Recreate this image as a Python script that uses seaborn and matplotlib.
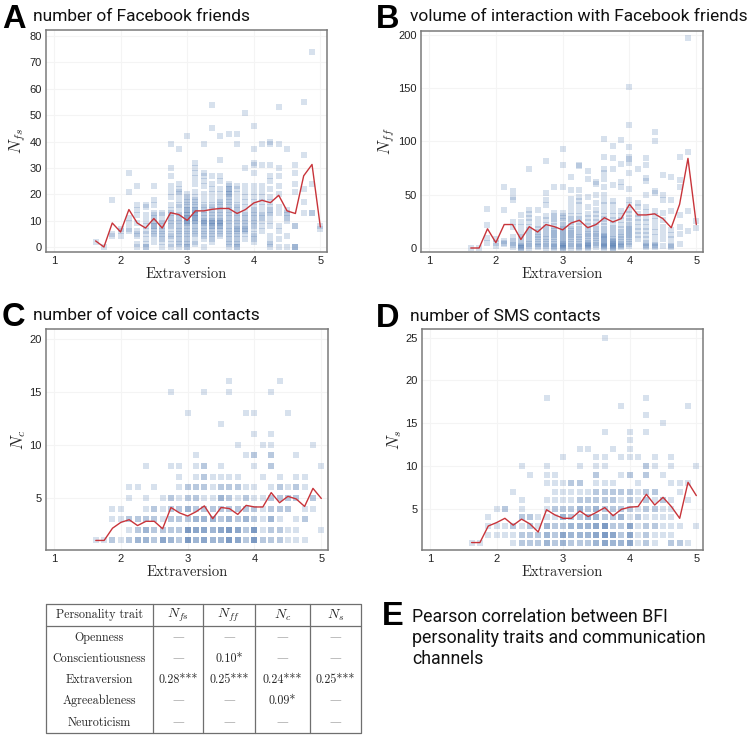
import matplotlib
matplotlib.use("Agg")
import matplotlib.pyplot as plt
import pandas as pd
import seaborn as sns

# ---------------- data ----------------
extraversion = [1.625, 1.75, 1.875, 2.0, 2.125, 2.25, 2.375, 2.5, 2.625, 2.75,
                2.875, 3.0, 3.125, 3.25, 3.375, 3.5, 3.625, 3.75, 3.875, 4.0,
                4.125, 4.25, 4.375, 4.5, 4.625, 4.75, 4.875, 5.0]

nfs_points = [
    [2], [0], [18, 5, 4], [7, 6, 4], [28, 21, 11, 9, 7, 6],
    [23, 16, 14, 12, 9, 6, 5, 4, 1, 0],
    [16, 15, 12, 10, 8, 6, 5, 3, 1, 0, 0],
    [23, 18, 16, 13, 12, 11, 10, 9, 8, 8, 7, 6, 5, 4, 2],
    [13, 12, 10, 9, 8, 7, 6, 5, 4, 3, 2, 0],
    [39, 30, 27, 23, 21, 19, 16, 14, 13, 12, 11, 10, 9, 8, 7, 5, 4, 3, 1, 0],
    [37, 24, 22, 21, 20, 18, 16, 15, 13, 12, 11, 10, 9, 8, 7, 6, 5, 4, 3, 2, 1, 0],
    [42, 20, 19, 18, 17, 16, 15, 14, 14, 13, 12, 12, 11, 11, 10, 10, 9, 9, 8, 7, 6, 5, 4, 3, 2, 1, 0, 0],
    [32, 30, 28, 26, 24, 21, 19, 18, 17, 16, 15, 14, 14, 13, 13, 12, 12, 11, 11, 10, 10, 9, 8, 7, 6, 5, 4, 2, 1],
    [39, 28, 27, 25, 23, 20, 18, 16, 15, 14, 13, 12, 11, 10, 10, 9, 9, 8, 7, 6, 5, 4, 3, 0],
    [54, 45, 27, 24, 22, 20, 18, 16, 15, 14, 13, 12, 11, 10, 10, 9, 9, 8, 8, 7, 6, 5, 4, 3, 2],
    [42, 33, 27, 25, 22, 20, 18, 17, 16, 15, 14, 13, 12, 11, 10, 10, 9, 9, 8, 8, 7, 6, 5, 4],
    [43, 24, 23, 22, 22, 21, 20, 20, 19, 18, 17, 16, 15, 14, 13, 12, 11, 10, 9, 8, 7, 6, 5, 4, 3, 2, 1, 0],
    [43, 39, 23, 22, 20, 18, 16, 15, 14, 13, 12, 11, 10, 9, 8, 7, 7, 6, 5, 4, 3, 2, 1, 0, 0],
    [51, 30, 23, 21, 19, 17, 15, 13, 12, 11, 10, 9, 8, 7, 7, 6, 5, 3],
    [46, 37, 32, 31, 28, 23, 21, 19, 17, 15, 14, 13, 12, 11, 10, 9, 8, 7, 5, 4, 3, 2],
    [39, 31, 23, 21, 19, 17, 15, 13, 12, 11, 10, 8, 6],
    [40, 39, 31, 27, 25, 22, 19, 17, 15, 14, 13, 12, 10, 8, 4, 2, 1, 0],
    [53, 39, 30, 27, 23, 20, 15, 13, 8, 6, 3, 0],
    [37, 14, 13, 12, 11, 10, 4, 0],
    [31, 28, 24, 21, 8, 8, 0, 0, 0],
    [55, 35, 22, 17, 13],
    [74, 24, 13, 13],
    [8, 7],
]
nfs_mean = [2.3, 0, 9.1, 5.7, 14.2, 9.1, 7.2, 10.8, 7.2, 13.0, 12.3, 10.1, 13.7, 13.7,
            14.3, 14.6, 14.6, 12.7, 14.2, 16.7, 17.7, 16.8, 19.6, 13.7, 12.7, 27.0, 31.3, 7.6]

nff_points = [
    [0], [0], [37, 22, 9, 5], [8, 5, 2], [57, 36, 7, 5, 4],
    [53, 48, 45, 24, 20, 10, 7, 5, 3, 1],
    [31, 24, 20, 14, 10, 8, 5, 3, 2, 1, 0, 0],
    [74, 36, 32, 28, 24, 20, 17, 14, 11, 8, 6, 4, 2, 0],
    [36, 27, 22, 18, 15, 12, 10, 8, 6, 4, 2, 1],
    [82, 52, 45, 40, 30, 26, 22, 19, 16, 13, 10, 8, 6, 4, 2, 0],
    [57, 33, 30, 27, 24, 21, 18, 16, 14, 12, 10, 8, 6, 4, 2, 1, 0],
    [93, 78, 57, 33, 30, 28, 25, 22, 20, 18, 16, 14, 12, 10, 8, 7, 5, 4, 3, 2, 1, 0, 0],
    [67, 54, 46, 40, 35, 30, 27, 24, 21, 18, 16, 14, 12, 10, 8, 6, 4, 2, 0],
    [78, 77, 54, 48, 44, 40, 35, 30, 27, 24, 21, 18, 15, 12, 10, 8, 6, 4, 2, 1, 0],
    [72, 65, 48, 38, 32, 28, 24, 21, 18, 15, 13, 11, 9, 7, 5, 4, 3, 2, 1, 0],
    [62, 60, 50, 42, 36, 32, 28, 24, 21, 18, 15, 13, 11, 9, 7, 5, 3, 1],
    [102, 85, 74, 70, 65, 57, 50, 44, 40, 35, 30, 27, 24, 21, 18, 15, 12, 11, 10, 9, 8, 6, 5, 4, 3, 2, 1, 0],
    [96, 84, 74, 59, 44, 40, 35, 30, 26, 22, 19, 16, 13, 10, 8, 7, 6, 5, 4, 3, 2, 1, 0, 0],
    [101, 79, 62, 57, 35, 30, 26, 22, 18, 15, 12, 10, 8, 6, 4, 3, 2, 1],
    [151, 115, 95, 85, 83, 80, 70, 55, 45, 40, 36, 32, 28, 25, 22, 20, 18, 16, 14, 12, 10, 8, 6, 4, 2],
    [74, 42, 38, 32, 28, 24, 20, 16, 12, 8],
    [84, 78, 66, 63, 50, 38, 34, 28, 24, 20, 16, 12, 8, 5, 3, 2, 1],
    [109, 100, 53, 52, 35, 30, 25, 20, 15, 10, 5, 3, 2, 1],
    [68, 50, 45, 33, 26, 20, 14, 8, 2],
    [67, 45, 35, 17, 12, 8, 3, 2, 1],
    [85, 64, 57, 31, 20, 13, 4],
    [197, 90, 35, 16],
    [25, 19],
]
nff_mean = [0, 0, 18, 5, 22, 22, 8, 20, 15, 22, 20, 17, 23.4, 26, 19, 22, 28.4, 24.4,
            27.5, 41, 31, 31, 32, 27.5, 19, 41, 84, 22]

nc_points = [
    [1], [1], [1, 1, 3, 4], [1, 3, 4], [1, 1, 2, 3, 3, 5, 6],
    [1, 1, 1, 2, 2, 3, 3, 6],
    [1, 1, 1, 2, 2, 2, 3, 3, 4, 5, 8],
    [1, 1, 2, 2, 3, 3, 4, 4, 6],
    [1, 1, 1, 1, 2, 2, 3, 4, 5],
    [1, 1, 1, 2, 2, 3, 3, 4, 4, 5, 5, 8, 15],
    [1, 1, 2, 2, 3, 3, 4, 4, 5, 6, 7, 8],
    [1, 1, 1, 1, 1, 2, 2, 2, 2, 2, 3, 3, 4, 4, 4, 5, 5, 6, 6, 13],
    [1, 1, 1, 2, 2, 2, 2, 3, 3, 3, 4, 4, 5, 5, 6, 6, 7, 8, 9],
    [1, 1, 1, 1, 2, 2, 2, 2, 3, 3, 3, 4, 4, 5, 6, 6, 7, 7, 8, 8, 15],
    [1, 1, 1, 2, 2, 2, 3, 3, 3, 4, 4, 5, 6, 7],
    [1, 1, 1, 2, 2, 2, 2, 3, 3, 4, 4, 5, 5, 5, 6, 6, 7, 8, 12],
    [1, 1, 1, 1, 1, 2, 2, 2, 2, 2, 3, 3, 3, 4, 4, 5, 5, 6, 6, 7, 15, 16],
    [1, 1, 1, 1, 2, 2, 2, 2, 3, 3, 4, 4, 5, 6, 6, 7, 10],
    [1, 1, 2, 2, 3, 3, 3, 4, 4, 5, 5, 6, 9, 13],
    [1, 1, 1, 1, 1, 2, 2, 2, 2, 2, 3, 3, 4, 4, 5, 6, 8, 9, 9, 11, 13],
    [1, 1, 2, 3, 4, 5, 7, 10],
    [1, 1, 2, 2, 3, 3, 3, 4, 4, 5, 5, 6, 8, 8, 9, 9, 10, 11, 15],
    [1, 1, 2, 2, 3, 4, 4, 5, 5, 6, 6, 7, 16],
    [1, 2, 4, 4, 5, 5, 6, 13],
    [1, 2, 3, 5, 5, 6, 6, 7, 9],
    [1, 3, 3, 4, 6, 7],
    [4, 5, 5, 10],
    [2, 8],
]
nc_mean = [1.0, 1.0, 2.15, 2.7, 2.95, 2.4, 2.8, 2.8, 2.1, 4.1, 3.6, 3.3, 3.7, 4.25, 3.05,
           4.1, 4.0, 3.45, 4.3, 4.15, 4.15, 5.5, 4.55, 5.15, 4.9, 4.2, 5.9, 4.95]

ns_points = [
    [1], [1], [2, 3, 4], [2, 3, 5], [2, 3, 5, 5],
    [1, 2, 3, 3, 7],
    [1, 1, 2, 2, 3, 4, 4, 5, 6, 10],
    [1, 1, 2, 2, 3, 3, 4, 4, 9],
    [1, 1, 2, 2, 3, 4],
    [1, 1, 1, 2, 2, 2, 3, 3, 3, 4, 5, 6, 8, 9, 10, 18],
    [1, 1, 2, 2, 3, 3, 4, 5, 5, 6, 7, 8, 9],
    [1, 1, 1, 2, 2, 2, 2, 3, 3, 4, 4, 4, 5, 5, 6, 7, 8, 11],
    [1, 1, 2, 2, 2, 3, 3, 3, 4, 4, 5, 5, 6, 7, 8, 8],
    [1, 1, 2, 2, 2, 3, 3, 3, 4, 4, 5, 5, 5, 6, 6, 7, 8, 8, 10, 12],
    [1, 1, 2, 2, 2, 3, 3, 3, 4, 4, 4, 5, 5, 6, 6, 7, 12],
    [1, 1, 1, 2, 2, 2, 2, 3, 3, 3, 3, 4, 4, 4, 5, 5, 5, 6, 6, 7, 7, 8, 9, 9, 10, 11],
    [1, 1, 1, 1, 2, 2, 2, 2, 2, 3, 3, 3, 3, 3, 4, 4, 5, 5, 6, 6, 7, 7, 8, 10, 11, 14, 25],
    [1, 1, 1, 2, 2, 2, 2, 3, 3, 4, 4, 5, 5, 6, 6, 7, 7, 8, 12],
    [1, 1, 1, 2, 2, 3, 3, 4, 4, 4, 5, 5, 6, 7, 7, 9, 11, 17],
    [1, 1, 1, 1, 2, 2, 2, 2, 3, 3, 3, 3, 4, 5, 5, 6, 6, 7, 7, 9, 9, 11, 12, 13, 14],
    [1, 2, 3, 4, 4, 5, 6, 7, 8, 11],
    [1, 1, 2, 2, 3, 3, 4, 5, 5, 6, 6, 7, 7, 9, 9, 10, 10, 14, 16, 18],
    [1, 2, 3, 3, 4, 5, 5, 6, 7, 7, 10, 11],
    [2, 3, 4, 5, 6, 6, 9, 15],
    [1, 1, 2, 3, 4, 5, 6, 8, 10, 11],
    [1, 1, 3, 7, 8],
    [1, 6, 8, 17],
    [3, 10],
]
ns_mean = [1.07, 1.07, 3.0, 3.4, 3.9, 3.1, 3.8, 3.25, 2.3, 4.9, 4.3, 3.9, 3.9, 4.75, 4.1,
           4.6, 5.15, 4.2, 4.95, 5.2, 5.27, 6.7, 5.45, 6.35, 5.27, 3.9, 8.1, 6.55]

traits = ["Openness", "Conscientiousness", "Extraversion", "Agreeableness", "Neuroticism"]
channel_labels = [r"$N_{fs}$", r"$N_{ff}$", r"$N_c$", r"$N_s$"]
corr_fs = ["—", "—", "0.28***", "—", "—"]
corr_ff = ["—", "0.10*", "0.25***", "—", "—"]
corr_c = ["—", "—", "0.24***", "0.09*", "—"]
corr_s = ["—", "—", "0.25***", "—", "—"]

# ---------------- style ----------------
sns.set_style("white")
plt.rcParams["font.family"] = ["Liberation Sans", "DejaVu Sans"]
plt.rcParams["mathtext.fontset"] = "cm"

W, H = 748, 736
fig = plt.figure(figsize=(W / 100, H / 100), dpi=100)

BLUE = "#4672ac"
RED = "#c8343a"
CM = ["cmr10"]
TITLE_FONT = dict(family=["Roboto", "Liberation Sans"], fontweight="normal")


def rect(left, top, right, bottom):
    return [left / W, 1 - bottom / H, (right - left) / W, (bottom - top) / H]


def panel(r, pts, means, ylim, yticks, ylabel):
    ax = fig.add_axes(r)
    df = pd.DataFrame({
        "x": [x for x, ys in zip(extraversion, pts) for _ in ys],
        "y": [y for ys in pts for y in ys],
    })
    sns.scatterplot(data=df, x="x", y="y", marker="s", s=19, color=BLUE,
                    alpha=0.21, linewidth=0, ax=ax, zorder=2)
    sns.lineplot(x=extraversion, y=means, color=RED, lw=1.0, ax=ax, zorder=3)
    ax.set_xlim(0.88, 5.1)
    ax.set_ylim(*ylim)
    ax.set_xticks([1, 2, 3, 4, 5])
    ax.set_yticks(yticks)
    ax.grid(True, color="#f4f4f4", lw=0.8)
    ax.set_axisbelow(True)
    for s in ax.spines.values():
        s.set_color("#7a7a7a")
        s.set_linewidth(1.1)
    ax.tick_params(length=0, labelsize=8, colors="#222222", pad=3)
    ax.set_xlabel("Extraversion", fontsize=10.5, labelpad=1, family=CM)
    ax.set_ylabel(ylabel, fontsize=12, labelpad=1)
    return ax


panel(rect(46, 30, 327, 252), nfs_points, nfs_mean, (-1.9, 82.3),
      [0, 10, 20, 30, 40, 50, 60, 70, 80], r"$N_{fs}$")
panel(rect(421, 31, 703, 252), nff_points, nff_mean, (-3.75, 203.4),
      [0, 50, 100, 150, 200], r"$N_{ff}$")
panel(rect(46, 329, 328, 550), nc_points, nc_mean, (0.1, 20.9),
      [5, 10, 15, 20], r"$N_c$")
panel(rect(422, 329, 703, 550), ns_points, ns_mean, (0.2, 26.0),
      [5, 10, 15, 20, 25], r"$N_s$")

# ---------------- overlay for titles and table ----------------
ov = fig.add_axes([0, 0, 1, 1])
ov.set_xlim(0, W)
ov.set_ylim(H, 0)
ov.axis("off")

titles = [
    ("A", 2, 28, 33, 21, "number of Facebook friends"),
    ("B", 376, 28, 410, 21, "volume of interaction with Facebook friends"),
    ("C", 2, 326, 33, 320, "number of voice call contacts"),
    ("D", 376, 327, 410, 321, "number of SMS contacts"),
]
for letter, lx, ly, tx, ty, text in titles:
    ov.text(lx, ly, letter, fontsize=23.5, fontweight="bold", va="baseline",
            ha="left", family=["Liberation Sans"], color="black")
    ov.text(tx, ty, text, fontsize=12.5, va="baseline", ha="left",
            color="#111111", **TITLE_FONT)

ov.text(382, 625, "E", fontsize=23.5, fontweight="bold", va="baseline", ha="left",
        family=["Liberation Sans"], color="black")
for i, line in enumerate(["Pearson correlation between BFI",
                          "personality traits and communication",
                          "channels"]):
    ov.text(412, 622 + 21 * i, line, fontsize=12.8, va="baseline", ha="left",
            color="#111111", **TITLE_FONT)

# table
tl, tr, tt, tb = 46, 361, 604, 733
vcuts = [153, 203, 255, 310]
hcut = 626
lc = "#6f6f6f"
ov.plot([tl, tr, tr, tl, tl], [tt, tt, tb, tb, tt], color=lc, lw=0.9)
for v in vcuts:
    ov.plot([v, v], [tt, tb], color=lc, lw=0.9)
ov.plot([tl, tr], [hcut, hcut], color=lc, lw=0.9)

col_centers = [(tl + vcuts[0]) / 2, (vcuts[0] + vcuts[1]) / 2, (vcuts[1] + vcuts[2]) / 2,
               (vcuts[2] + vcuts[3]) / 2, (vcuts[3] + tr) / 2]
row_y = [638, 659, 680, 701, 723]
header_y = 615
ov.text(col_centers[0], header_y, "Personality trait", fontsize=8.7,
        ha="center", va="center", family=CM)
for cx, lab in zip(col_centers[1:], channel_labels):
    ov.text(cx, header_y, lab, fontsize=10, ha="center", va="center")
for ry, t in zip(row_y, traits):
    ov.text(col_centers[0], ry, t, fontsize=8.7, ha="center", va="center", family=CM)
for cx, col in zip(col_centers[1:], [corr_fs, corr_ff, corr_c, corr_s]):
    for ry, val in zip(row_y, col):
        if val == "—":
            ov.text(cx, ry, "—", fontsize=8.5, ha="center", va="center",
                    color="#aaaaaa", family=["DejaVu Serif"])
        else:
            ov.text(cx, ry, val, fontsize=8.7, ha="center", va="center", family=CM)

fig.savefig("out.png", dpi=100)
